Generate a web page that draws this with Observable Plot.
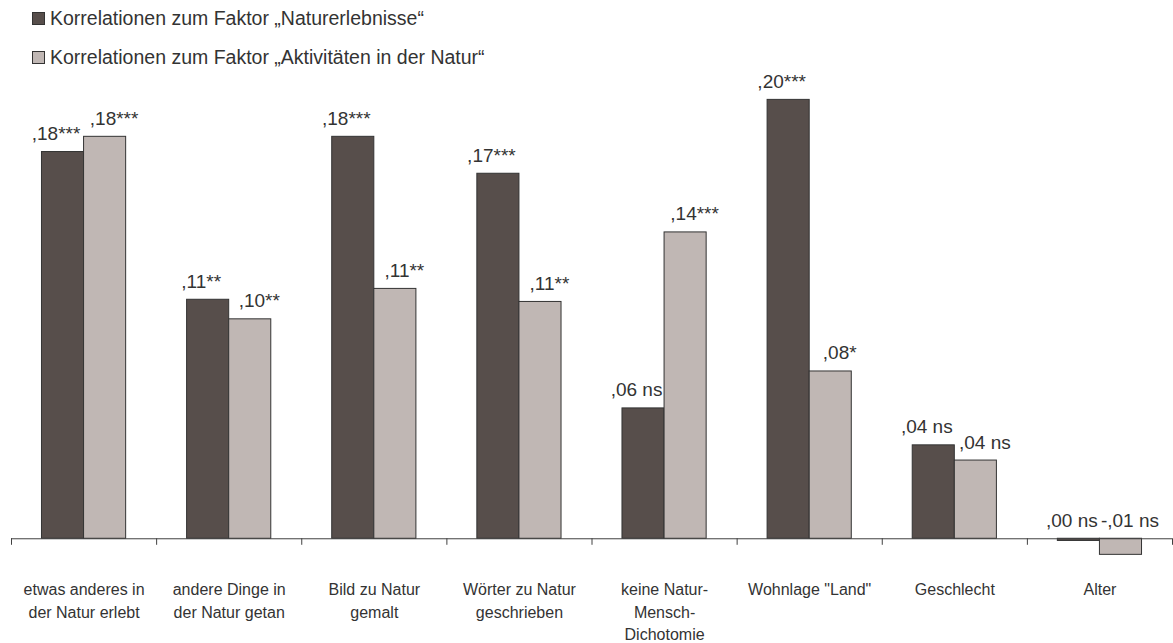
<!DOCTYPE html>
<html><head><meta charset="utf-8">
<script src="https://cdn.jsdelivr.net/npm/d3@7"></script>
<script src="https://cdn.jsdelivr.net/npm/@observablehq/plot@0.6"></script>
<style>
body{margin:0;background:#fff;font-family:"Liberation Sans",Arial,sans-serif;color:#333;}
#legend{position:relative;height:70px;width:1173px;}
.item{position:absolute;left:32px;height:22px;display:flex;align-items:center;font-size:19.5px;white-space:nowrap;}
.sw{width:11px;height:11px;border:1px solid #333;margin-right:5px;flex:none;}
#chart svg{display:block;}
</style></head><body>
<div id="legend"></div><div id="chart"></div>
<script>
const categories = ["etwas anderes in\nder Natur erlebt", "andere Dinge in\nder Natur getan", "Bild zu Natur\ngemalt", "Wörter zu Natur\ngeschrieben", "keine Natur-\nMensch-\nDichotomie", "Wohnlage \"Land\"", "Geschlecht", "Alter"];
const seriesNames = ["Korrelationen zum Faktor „Naturerlebnisse“", "Korrelationen zum Faktor „Aktivitäten in der Natur“"];
const darkValues = [0.178, 0.110, 0.185, 0.168, 0.060, 0.202, 0.043, -0.001];
const lightValues = [0.185, 0.101, 0.115, 0.109, 0.141, 0.077, 0.036, -0.0074];
const darkLabels = [",18***", ",11**", ",18***", ",17***", ",06 ns", ",20***", ",04 ns", ",00 ns"];
const lightLabels = [",18***", ",10**", ",11**", ",11**", ",14***", ",08*", ",04 ns", "-,01 ns"];
const colors = ["#574e4b", "#c0b7b4"];

const legend = document.getElementById("legend");
seriesNames.forEach((s, k) => {
  const it = document.createElement("div");
  it.className = "item";
  it.style.top = (k === 0 ? 7 : 46.5) + "px";
  const sw = document.createElement("span");
  sw.className = "sw"; sw.style.background = colors[k];
  it.appendChild(sw);
  it.appendChild(document.createTextNode(s));
  legend.appendChild(it);
});

const rows = categories.map((c, i) => ({i, c, dark: darkValues[i], light: lightValues[i], dl: darkLabels[i], ll: lightLabels[i]}));
const boundaries = d3.range(categories.length + 1).map(i => i - 0.5);
const barW = 0.29;
const font = "'Liberation Sans', Arial, sans-serif";

const chart = Plot.plot({
  width: 1173, height: 573,
  marginLeft: 11, marginRight: 1, marginTop: 12, marginBottom: 83,
  x: {type: "linear", domain: [-0.5, categories.length - 0.5], axis: null},
  y: {domain: [-0.01, 0.21], axis: null},
  style: {fontFamily: font, fontSize: "16px", color: "#333", background: "#fff"},
  marks: [
    Plot.rect(rows, {x1: d => d.i - barW, x2: d => d.i, y1: 0, y2: "dark", fill: colors[0], stroke: "#333", strokeWidth: 1}),
    Plot.rect(rows, {x1: d => d.i, x2: d => d.i + barW, y1: 0, y2: "light", fill: colors[1], stroke: "#333", strokeWidth: 1}),
    Plot.ruleY([0], {stroke: "#404040"}),
    Plot.ruleX(boundaries, {x: d => d, y1: 0, y2: -0.003, stroke: "#404040"}),
    Plot.text(rows, {x: d => d.i - barW / 2, y: d => Math.max(d.dark, 0), text: "dl", lineAnchor: "bottom", dy: -12, dx: -7, fill: "#333", fontSize: 19}),
    Plot.text(rows, {x: d => d.i + barW / 2, y: d => Math.max(d.light, 0), text: "ll", lineAnchor: "bottom", dy: -12, dx: 9, fill: "#333", fontSize: 19}),
    Plot.text(rows, {x: "i", text: "c", frameAnchor: "bottom", lineAnchor: "top", dy: 19, lineHeight: 1.4, fill: "#333", fontSize: 16})
  ]
});
document.getElementById("chart").appendChild(chart);
</script>
</body></html>
